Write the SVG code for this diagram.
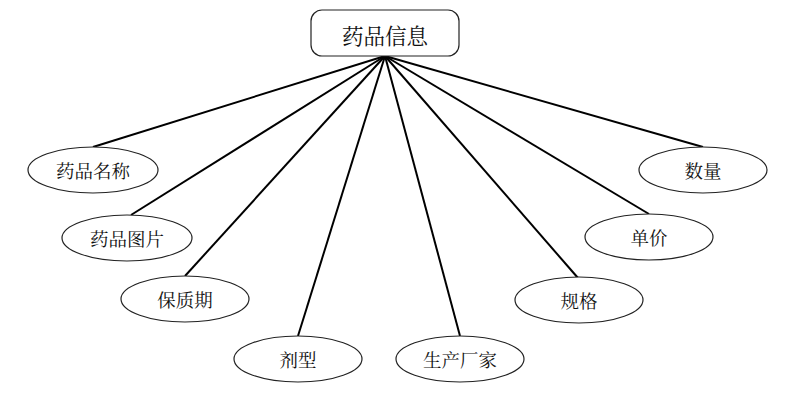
<svg xmlns="http://www.w3.org/2000/svg" width="790" height="401" viewBox="0 0 790 401">
<style>
.e{fill:#fff;stroke:#222;stroke-width:1.2}
.t{font-family:"Noto Serif CJK SC","Noto Sans CJK SC",serif;font-size:18.5px;fill:#111;text-anchor:middle;dominant-baseline:central}
.c line{stroke:#000;stroke-width:2}
</style>
<rect width="790" height="401" fill="#fff"/>
<g class="c" id="connectors">
<line x1="385" y1="56" x2="93" y2="147"/>
<line x1="385" y1="56" x2="131" y2="215"/>
<line x1="385" y1="56" x2="185" y2="276"/>
<line x1="385" y1="56" x2="298" y2="336"/>
<line x1="385" y1="56" x2="460" y2="336"/>
<line x1="385" y1="56" x2="578" y2="278"/>
<line x1="385" y1="56" x2="649" y2="214"/>
<line x1="385" y1="56" x2="703" y2="147"/>
</g>
<g id="root"><rect x="311" y="10" width="148" height="46" rx="11" class="e"/><text x="385" y="34" class="t" style="font-size:21.5px">药品信息</text></g>
<g id="n1"><ellipse cx="93" cy="170" rx="65" ry="23" class="e"/><text x="93" y="170" class="t">药品名称</text></g>
<g id="n2"><ellipse cx="127" cy="238" rx="65" ry="23" class="e"/><text x="127" y="238" class="t">药品图片</text></g>
<g id="n3"><ellipse cx="185" cy="299" rx="64" ry="23" class="e"/><text x="185" y="299" class="t">保质期</text></g>
<g id="n4"><ellipse cx="298" cy="359" rx="64" ry="23" class="e"/><text x="298" y="359" class="t">剂型</text></g>
<g id="n5"><ellipse cx="460" cy="359" rx="64" ry="23" class="e"/><text x="460" y="359" class="t">生产厂家</text></g>
<g id="n6"><ellipse cx="579" cy="300" rx="64" ry="23" class="e"/><text x="579" y="300" class="t">规格</text></g>
<g id="n7"><ellipse cx="649" cy="237" rx="64" ry="23" class="e"/><text x="649" y="237" class="t">单价</text></g>
<g id="n8"><ellipse cx="703" cy="170" rx="64" ry="23" class="e"/><text x="703" y="170" class="t">数量</text></g>
</svg>
